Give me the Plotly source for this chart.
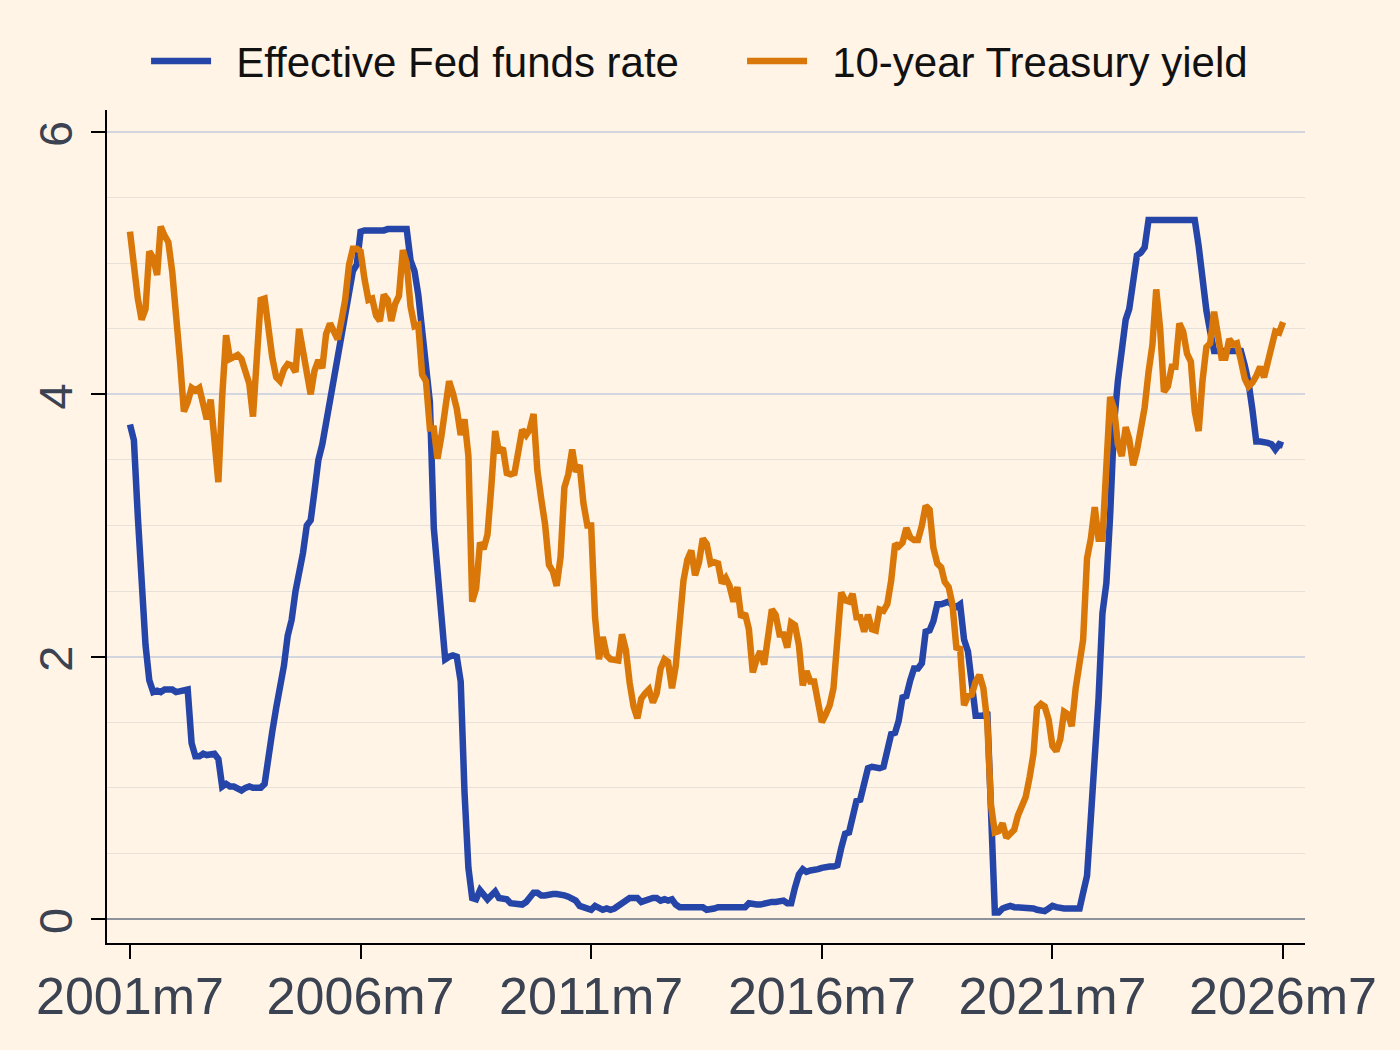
import pandas as pd
import plotly.graph_objects as go

start_month = "2001-07-01"

fed_funds = [
    3.77, 3.65, 3.07, 2.49, 2.09, 1.82,
    1.73, 1.74, 1.73, 1.75, 1.75, 1.75, 1.73, 1.74, 1.75, 1.75, 1.34, 1.24,
    1.24, 1.26, 1.25, 1.26, 1.26, 1.22, 1.01, 1.03, 1.01, 1.01, 1.00, 0.98,
    1.00, 1.01, 1.00, 1.00, 1.00, 1.03, 1.26, 1.43, 1.61, 1.76, 1.93, 2.16,
    2.28, 2.50, 2.63, 2.79, 3.00, 3.04, 3.26, 3.50, 3.62, 3.78, 4.00, 4.16,
    4.29, 4.49, 4.59, 4.79, 4.94, 4.99, 5.24, 5.25, 5.25, 5.25, 5.25, 5.24,
    5.25, 5.26, 5.26, 5.25, 5.25, 5.25, 5.26, 5.02, 4.94, 4.76, 4.49, 4.24,
    3.94, 2.98, 2.61, 2.28, 1.98, 2.00, 2.01, 2.00, 1.81, 0.97, 0.39, 0.16,
    0.15, 0.22, 0.18, 0.15, 0.18, 0.21, 0.16, 0.16, 0.15, 0.12, 0.12, 0.12,
    0.11, 0.13, 0.16, 0.20, 0.20, 0.18, 0.18, 0.19, 0.19, 0.19, 0.19, 0.18,
    0.17, 0.16, 0.14, 0.10, 0.09, 0.09, 0.07, 0.10, 0.08, 0.07, 0.08, 0.07,
    0.08, 0.10, 0.13, 0.14, 0.16, 0.16, 0.16, 0.13, 0.14, 0.16, 0.16, 0.16,
    0.14, 0.15, 0.14, 0.15, 0.11, 0.09, 0.09, 0.08, 0.08, 0.09, 0.08, 0.09,
    0.07, 0.07, 0.08, 0.09, 0.09, 0.10, 0.09, 0.09, 0.09, 0.09, 0.09, 0.12,
    0.11, 0.11, 0.11, 0.12, 0.12, 0.13, 0.13, 0.14, 0.14, 0.12, 0.12, 0.24,
    0.34, 0.38, 0.36, 0.37, 0.37, 0.38, 0.39, 0.40, 0.40, 0.40, 0.41, 0.54,
    0.65, 0.66, 0.79, 0.90, 0.91, 1.04, 1.15, 1.16, 1.15, 1.15, 1.16, 1.30,
    1.41, 1.42, 1.51, 1.69, 1.70, 1.82, 1.91, 1.91, 1.95, 2.19, 2.20, 2.27,
    2.40, 2.40, 2.41, 2.42, 2.39, 2.38, 2.40, 2.13, 2.04, 1.83, 1.55, 1.55,
    1.55, 1.58, 0.65, 0.05, 0.05, 0.08, 0.09, 0.10, 0.09, 0.09, 0.09, 0.09,
    0.09, 0.08, 0.07, 0.07, 0.06, 0.08, 0.10, 0.09, 0.08, 0.08, 0.08, 0.08,
    0.08, 0.08, 0.20, 0.33, 0.77, 1.21, 1.68, 2.33, 2.56, 3.08, 3.78, 4.10,
    4.33, 4.57, 4.65, 4.83, 5.06, 5.08, 5.12, 5.33, 5.33, 5.33, 5.33, 5.33,
    5.33, 5.33, 5.33, 5.33, 5.33, 5.33, 5.33, 5.33, 5.13, 4.83, 4.64, 4.48,
    4.33, 4.33, 4.33, 4.33, 4.33, 4.33, 4.33, 4.33, 4.22, 4.09, 3.88, 3.64,
    3.64, 3.64, 3.63, 3.62, 3.58, 3.62, 3.61,
]

treasury_10y = [
    5.24, 4.97, 4.73, 4.57, 4.65, 5.09,
    5.04, 4.91, 5.28, 5.21, 5.16, 4.93, 4.65, 4.26, 3.87, 3.94, 4.05, 4.03,
    4.05, 3.90, 3.81, 3.96, 3.57, 3.33, 3.98, 4.45, 4.27, 4.29, 4.30, 4.27,
    4.15, 4.08, 3.83, 4.35, 4.72, 4.73, 4.50, 4.28, 4.13, 4.10, 4.19, 4.23,
    4.22, 4.17, 4.50, 4.34, 4.14, 4.00, 4.18, 4.26, 4.20, 4.46, 4.54, 4.47,
    4.42, 4.57, 4.72, 4.99, 5.11, 5.11, 5.09, 4.88, 4.72, 4.73, 4.60, 4.56,
    4.76, 4.72, 4.56, 4.69, 4.75, 5.10, 5.00, 4.67, 4.52, 4.53, 4.15, 4.10,
    3.74, 3.74, 3.51, 3.68, 3.88, 4.10, 4.01, 3.89, 3.69, 3.81, 3.53, 2.42,
    2.52, 2.87, 2.82, 2.93, 3.29, 3.72, 3.56, 3.59, 3.40, 3.39, 3.40, 3.59,
    3.73, 3.69, 3.73, 3.85, 3.42, 3.20, 3.01, 2.70, 2.65, 2.54, 2.76, 3.29,
    3.39, 3.58, 3.41, 3.46, 3.17, 3.00, 3.00, 2.30, 1.98, 2.15, 2.01, 1.98,
    1.97, 1.97, 2.17, 2.05, 1.80, 1.62, 1.53, 1.68, 1.72, 1.75, 1.65, 1.72,
    1.91, 1.98, 1.96, 1.76, 1.93, 2.30, 2.58, 2.74, 2.81, 2.62, 2.72, 2.90,
    2.86, 2.71, 2.72, 2.71, 2.56, 2.60, 2.54, 2.42, 2.53, 2.30, 2.33, 2.21,
    1.88, 1.98, 2.04, 1.94, 2.20, 2.36, 2.32, 2.17, 2.17, 2.07, 2.26, 2.24,
    2.09, 1.78, 1.89, 1.81, 1.81, 1.64, 1.50, 1.56, 1.63, 1.76, 2.14, 2.49,
    2.43, 2.42, 2.48, 2.30, 2.30, 2.19, 2.32, 2.21, 2.20, 2.36, 2.35, 2.40,
    2.58, 2.86, 2.84, 2.87, 2.98, 2.91, 2.89, 2.89, 3.00, 3.15, 3.12, 2.83,
    2.71, 2.68, 2.57, 2.53, 2.40, 2.07, 2.06, 1.63, 1.70, 1.71, 1.81, 1.86,
    1.76, 1.50, 0.87, 0.66, 0.67, 0.73, 0.62, 0.65, 0.68, 0.79, 0.87, 0.93,
    1.08, 1.26, 1.61, 1.64, 1.62, 1.52, 1.32, 1.28, 1.37, 1.58, 1.56, 1.47,
    1.76, 1.93, 2.13, 2.75, 2.90, 3.14, 2.90, 2.90, 3.52, 3.98, 3.89, 3.62,
    3.53, 3.75, 3.66, 3.46, 3.57, 3.75, 3.90, 4.17, 4.38, 4.80, 4.50, 4.02,
    4.06, 4.21, 4.21, 4.54, 4.48, 4.31, 4.25, 3.87, 3.72, 4.10, 4.36, 4.39,
    4.63, 4.45, 4.28, 4.28, 4.42, 4.38, 4.39, 4.26, 4.12, 4.06, 4.09, 4.14,
    4.21, 4.13, 4.25, 4.33, 4.48, 4.47, 4.55,
]

tick_dates = ["2001-07-01", "2006-07-01", "2011-07-01", "2016-07-01", "2021-07-01", "2026-07-01"]
tick_labels = ["2001m7", "2006m7", "2011m7", "2016m7", "2021m7", "2026m7"]
y_ticks = [0, 2, 4, 6]

months = pd.date_range(start_month, periods=len(fed_funds), freq="MS")

BG = "#FFF4E5"
BLUE = "#2546A8"
ORANGE = "#D97708"
FONT = "Liberation Sans, Arial, sans-serif"
NB = "\u00a0\u2009"

fig = go.Figure()
fig.add_trace(go.Scatter(x=months, y=fed_funds, mode="lines", name=NB + "Effective Fed funds rate",
                         line=dict(color=BLUE, width=6.5), legend="legend"))
fig.add_trace(go.Scatter(x=months, y=treasury_10y[:len(months)], mode="lines", name=NB + "10-year Treasury yield",
                         line=dict(color=ORANGE, width=6.5), legend="legend2"))

legend_common = dict(orientation="h", xanchor="left", y=1.0585, yanchor="middle",
                     font=dict(size=42, color="#111111"), bgcolor="rgba(0,0,0,0)",
                     itemwidth=60)

fig.update_layout(
    width=1400, height=1050,
    margin=dict(l=107, r=95, t=110, b=107, autoexpand=False),
    paper_bgcolor=BG, plot_bgcolor=BG,
    font=dict(family=FONT, color="#3B4252"),
    showlegend=True,
    legend=dict(x=0.0326, **legend_common),
    legend2=dict(x=0.5301, **legend_common),
)

fig.update_xaxes(
    type="date",
    range=["2000-12-31", "2026-12-22"],
    tickvals=tick_dates, ticktext=tick_labels,
    tickfont=dict(size=52, color="#3B4252", family=FONT),
    ticks="outside", ticklen=14, tickwidth=2, tickcolor="#000000",
    showline=True, linecolor="#000000", linewidth=2,
    showgrid=False, zeroline=False,
    automargin=False,
    ticklabelstandoff=-7,
)

fig.update_yaxes(
    range=[-0.183, 6.168],
    tickvals=y_ticks,
    tickangle=-90,
    tickfont=dict(size=47, color="#3B4252", family=FONT),
    ticks="outside", ticklen=14, tickwidth=2, tickcolor="#000000",
    showline=True, linecolor="#000000", linewidth=2,
    showgrid=True, gridcolor="#D3D6DE", gridwidth=1.5,
    minor=dict(dtick=0.5, tick0=0, showgrid=True, gridcolor="#E7E1D9", gridwidth=1, ticks=""),
    zeroline=True, zerolinecolor="#8E929A", zerolinewidth=2,
    automargin=False,
    ticklabelstandoff=0,
    ticklabelshift=9,
)

fig.write_html("out.html")
